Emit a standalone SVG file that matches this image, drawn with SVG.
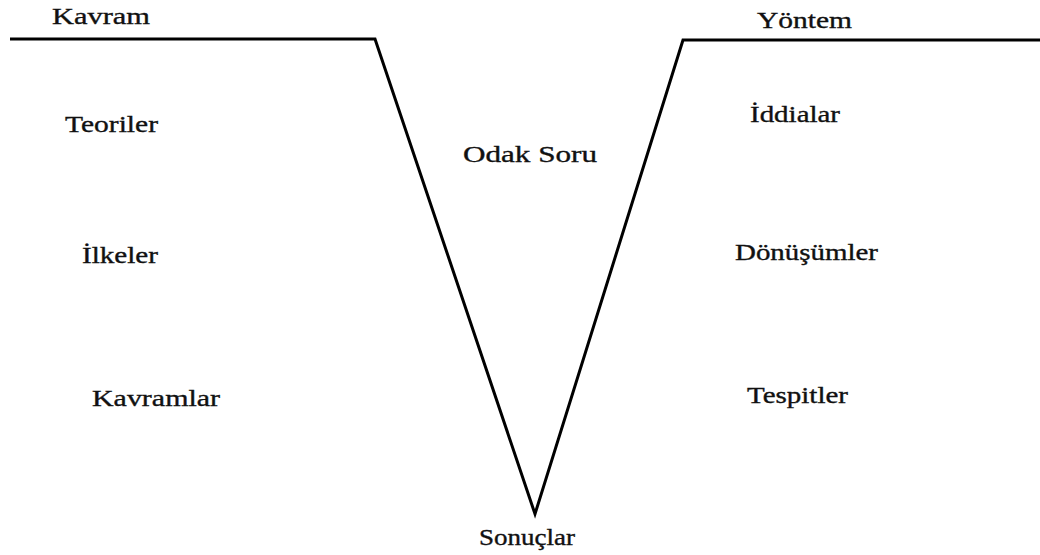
<svg xmlns="http://www.w3.org/2000/svg" width="1040" height="555" viewBox="0 0 1040 555">
<style>
.lbl{font-family:"Liberation Serif","Times New Roman",serif;font-size:23px;fill:#111;stroke:#111;stroke-width:0.35;}
.ln{fill:none;stroke:#000;stroke-width:3;stroke-linejoin:miter;}
</style>
<rect width="1040" height="555" fill="#fff"/>
<g id="connectors">
<path class="ln" d="M10,39 L375,39 L535,514 L683,40 L1040,40"/>
</g>
<g id="kavram"><text class="lbl" x="52" y="24" textLength="98" lengthAdjust="spacingAndGlyphs">Kavram</text></g>
<g id="yontem"><text class="lbl" x="757" y="28" textLength="95" lengthAdjust="spacingAndGlyphs">Yöntem</text></g>
<g id="teoriler"><text class="lbl" x="65" y="132" textLength="93" lengthAdjust="spacingAndGlyphs">Teoriler</text></g>
<g id="ilkeler"><text class="lbl" x="82" y="263" textLength="76" lengthAdjust="spacingAndGlyphs">İlkeler</text></g>
<g id="kavramlar"><text class="lbl" x="92" y="406" textLength="128" lengthAdjust="spacingAndGlyphs">Kavramlar</text></g>
<g id="odak-soru"><text class="lbl" x="463" y="162" textLength="134" lengthAdjust="spacingAndGlyphs">Odak Soru</text></g>
<g id="iddialar"><text class="lbl" x="750" y="122" textLength="90" lengthAdjust="spacingAndGlyphs">İddialar</text></g>
<g id="donusumler"><text class="lbl" x="735" y="260" textLength="143" lengthAdjust="spacingAndGlyphs">Dönüşümler</text></g>
<g id="tespitler"><text class="lbl" x="747" y="403" textLength="101" lengthAdjust="spacingAndGlyphs">Tespitler</text></g>
<g id="sonuclar"><text class="lbl" x="479" y="545" textLength="96" lengthAdjust="spacingAndGlyphs">Sonuçlar</text></g>
</svg>
